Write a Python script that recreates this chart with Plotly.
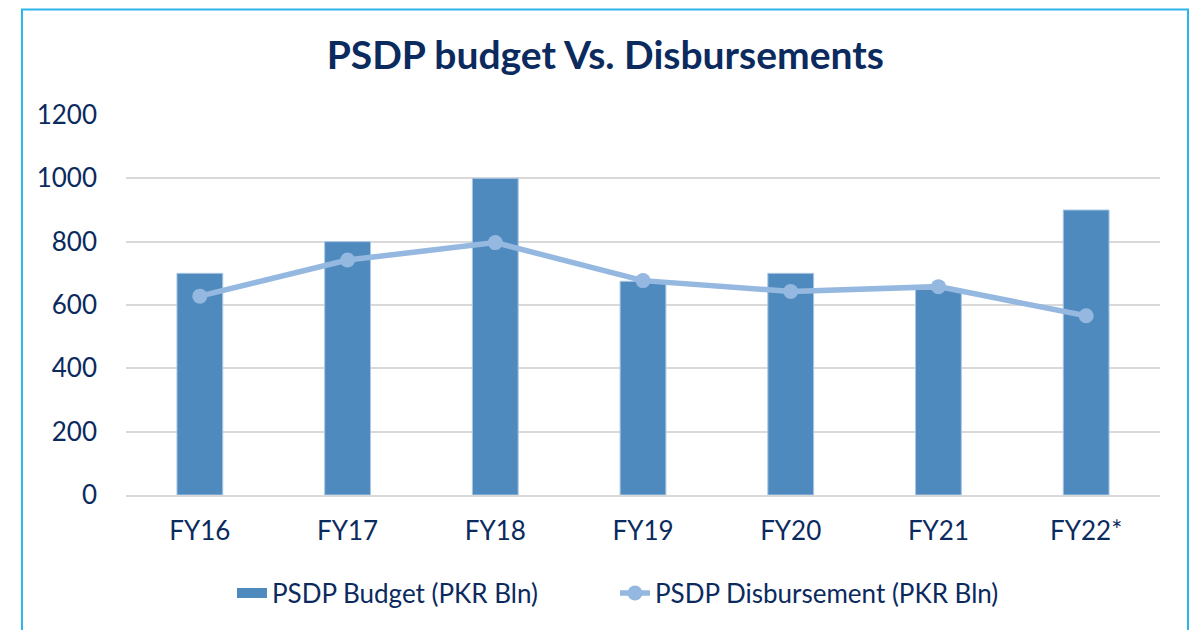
import plotly.graph_objects as go

# Dados
anos = ["FY16", "FY17", "FY18", "FY19", "FY20", "FY21", "FY22*"]
orcamento = [700, 800, 1000, 675, 700, 650, 900]
desembolso = [628, 742, 797, 677, 643, 658, 566]
y_ticks = [0, 200, 400, 600, 800, 1000, 1200]

azul_escuro = "#0B2A5E"
cor_barra = "#4F8ABE"
cor_linha = "#95B8E0"
fonte = "Lato"

fig = go.Figure()

fig.add_trace(go.Bar(
    x=anos, y=orcamento,
    name="PSDP Budget (PKR Bln)",
    marker=dict(color=cor_barra, line=dict(color="#A9C6E4", width=1)),
    width=0.31,
    showlegend=False,
))

# entrada de legenda com retângulo largo (como no original)
fig.add_trace(go.Scatter(
    x=[None], y=[None],
    name="PSDP Budget (PKR Bln)",
    mode="lines",
    line=dict(color=cor_barra, width=16),
))

fig.add_trace(go.Scatter(
    x=anos, y=desembolso,
    name="PSDP Disbursement (PKR Bln)",
    mode="lines+markers",
    line=dict(color=cor_linha, width=5.5),
    marker=dict(color=cor_linha, size=15),
))

fig.update_layout(
    width=1197, height=630,
    margin=dict(l=118, r=45, t=107, b=143),
    paper_bgcolor="white",
    plot_bgcolor="white",
    font=dict(family=fonte, color=azul_escuro),
    title=dict(
        text="<b>PSDP budget Vs. Disbursements</b>",
        x=0.499, xanchor="center",
        y=0.925, yanchor="middle",
        font=dict(size=39, color=azul_escuro, family=fonte),
    ),
    showlegend=True,
    legend=dict(
        orientation="h",
        x=0.1025, xanchor="left",
        y=-0.258, yanchor="middle",
        font=dict(size=26, color=azul_escuro),
        traceorder="normal",
        entrywidth=338, entrywidthmode="pixels",
    ),
    bargap=0.69,
)

fig.update_xaxes(
    showgrid=False,
    showline=True, linecolor="#D9D9D9", linewidth=1.5,
    ticks="", tickfont=dict(size=26, color=azul_escuro),
    ticklabelstandoff=12,
)

fig.update_yaxes(
    range=[0, 1200],
    tickvals=y_ticks,
    showgrid=True, gridcolor="#D9D9D9", gridwidth=1.5,
    zeroline=False, showline=False,
    ticks="", tickfont=dict(size=26, color=azul_escuro),
    ticklabelstandoff=28,
)

# Moldura azul do gráfico
fig.add_shape(
    type="rect", xref="paper", yref="paper",
    x0=-0.1006, x1=1.0271, y0=-0.40, y1=1.2776,
    line=dict(color="#2DB4EA", width=2),
    layer="below",
)

fig.write_html("out.html")
